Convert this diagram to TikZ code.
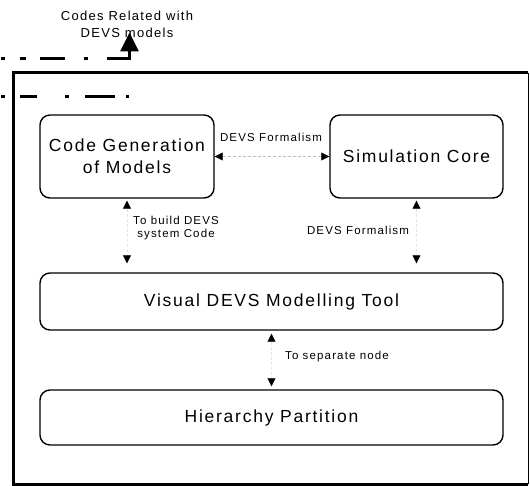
\documentclass[tikz,border=0pt]{standalone}
\usepackage{fontspec}
\setmainfont{Liberation Sans}[LetterSpace=10]
\usetikzlibrary{arrows.meta}

\begin{document}
\begin{tikzpicture}[x=1pt, y=-1pt,
    box/.style={draw, rounded corners=10pt, line width=1.4pt, inner sep=0pt, align=center,
                font=\fontsize{17.5}{22}\selectfont},
    lbl/.style={inner sep=0pt, align=center, font=\fontsize{11.5}{13}\selectfont},
    biarrow/.style={draw=black!25, densely dashed, line width=0.6pt,
                {Triangle[color=black, fill=black, width=8pt, length=8pt]}-{Triangle[color=black, fill=black, width=8pt, length=8pt]}}]
              \useasboundingbox (0,0) rectangle (530,486);

              \node[lbl, font=\fontsize{13}{17}\selectfont] (title) at (127,24) {Codes Related with\\DEVS models};

              % outer frame
              \draw[line width=3pt] (528,73) -- (13,73) -- (13,484) -- (528,484);
              \draw[line width=1pt] (528,73) -- (528,484);

              \node[box, minimum width=174pt, minimum height=83pt] (code) at (127,156.5) {Code Generation\\of Models};
              \node[box, minimum width=173pt, minimum height=83pt] (sim) at (416.5,156.5) {Simulation Core};
              \node[box, minimum width=463pt, minimum height=57pt] (visual) at (271.5,301.5) {Visual DEVS Modelling Tool};
              \node[box, minimum width=463pt, minimum height=55pt] (hier) at (271.5,417.5) {Hierarchy Partition};

              % dash-dot lines
              \coordinate (codesin) at (1,59);
              \coordinate (corner) at (129.5,59);
              \draw[line width=3pt, dash pattern=on 4pt off 15pt on 6pt off 14pt on 25pt off 19pt on 4pt off 19pt on 80pt]
                    (codesin) -- (corner);
              \draw[line width=3pt, -{Triangle[width=18pt, length=19pt]}, shorten >=-5pt]
                    ([yshift=-1.5pt]corner) -- (corner |- title.south);
              \coordinate (stray) at (1,97);
              \coordinate (strayend) at (129,97);
              \draw[line width=3pt, dash pattern=on 4pt off 15pt on 17pt off 28pt on 4pt off 16pt on 30pt off 11pt on 3pt]
                    (stray) -- (strayend);

              \draw[biarrow] (code) -- (sim);
              \node[lbl] (f1) at (271,137) {DEVS Formalism};
              \draw[biarrow, draw=black!10, shorten <=2pt, shorten >=9pt] (code) -- (code |- visual.north);
              \node[lbl] (build) at (176,228.5) {To build DEVS\\system Code};
              \draw[biarrow, draw=black!10, shorten <=2pt, shorten >=9pt] (sim) -- (sim |- visual.north);
              \node[lbl] (f2) at (358,230) {DEVS Formalism};
              \draw[biarrow, draw=black!10, shorten <=3pt, shorten >=3pt] (visual) -- (hier);
              \node[lbl] (sep) at (337,357) {To separate node};
            \end{tikzpicture}
\end{document}
